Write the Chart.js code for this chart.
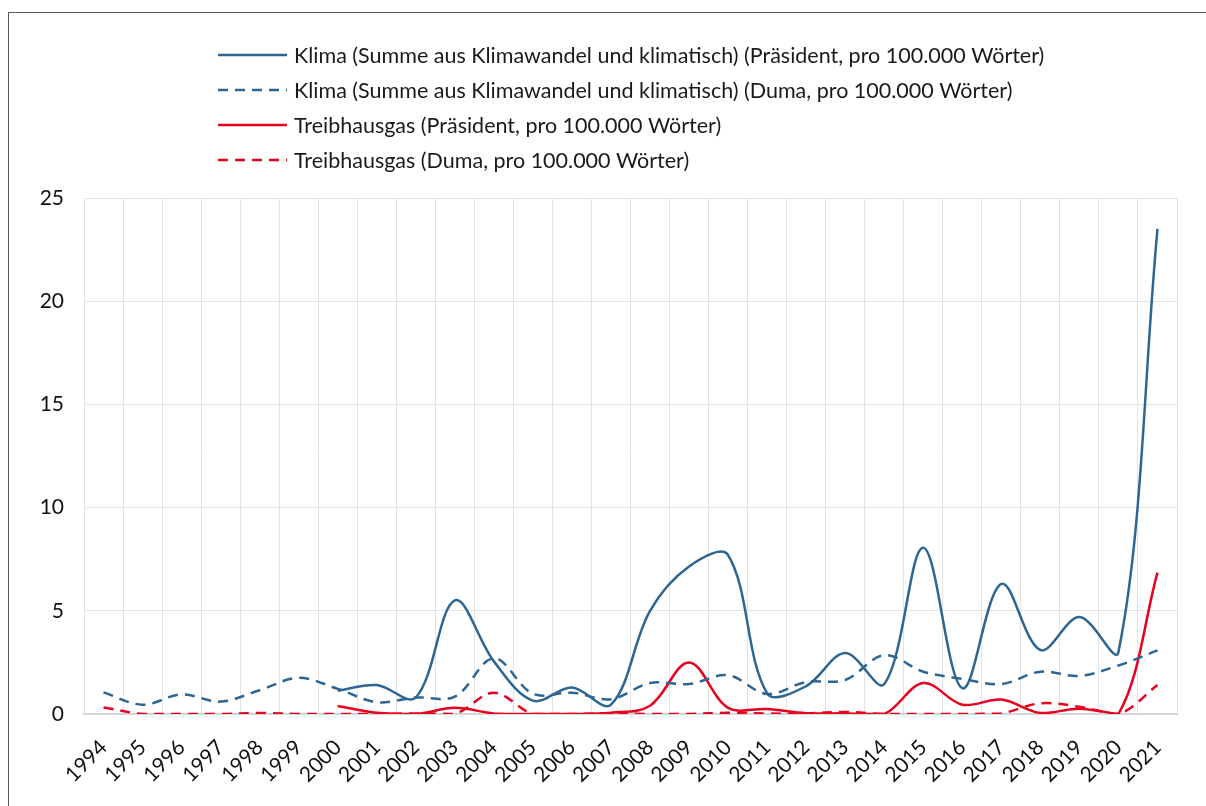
<!DOCTYPE html>
<html>
<head>
<meta charset="utf-8">
<script src="https://cdn.jsdelivr.net/npm/chart.js@4.4.1/dist/chart.umd.min.js"></script>
<style>
  html, body { margin: 0; padding: 0; background: #fff; overflow: hidden; }
  #wrap { position: relative; width: 1206px; height: 806px; overflow: hidden; }
  #frame { position: absolute; left: 8px; top: 12px; width: 1300px; height: 900px; border: 1px solid #5a5a5a; pointer-events: none; }
  canvas { position: absolute; left: 0; top: 0; }
</style>
</head>
<body>
<div id="wrap">
  <canvas id="chart" width="1206" height="806"></canvas>
  <div id="frame"></div>
</div>
<script>
const years = ["1994","1995","1996","1997","1998","1999","2000","2001","2002","2003","2004","2005","2006","2007",
  "2008","2009","2010","2011","2012","2013","2014","2015","2016","2017","2018","2019","2020","2021"];

// Klima (Summe aus Klimawandel und klimatisch), Präsident
const klimaPraesident = [null, null, null, null, null, null, 1.13, 1.4, 0.8, 5.5, 2.55, 0.65, 1.28, 0.45,
  5.0, 7.15, 7.7, 1.0, 1.35, 2.95, 1.45, 8.05, 1.25, 6.3, 3.1, 4.7, 3.0, 23.5];

// Klima, Duma
const klimaDuma = [1.05, 0.45, 0.95, 0.6, 1.15, 1.75, 1.22, 0.57, 0.8, 0.84, 2.7, 0.98, 1.03, 0.72,
  1.5, 1.45, 1.88, 0.97, 1.55, 1.65, 2.85, 2.05, 1.7, 1.45, 2.05, 1.85, 2.35, 3.08];

// Treibhausgas, Präsident
const treibhausPraesident = [null, null, null, null, null, null, 0.39, 0.06, 0.0, 0.3, 0.03, 0.0, 0.0, 0.06,
  0.4, 2.5, 0.3, 0.24, 0.04, 0.03, 0.0, 1.5, 0.45, 0.7, 0.05, 0.26, 0.0, 6.85];

// Treibhausgas, Duma
const treibhausDuma = [0.32, 0.0, 0.0, 0.0, 0.05, 0.0, 0.0, 0.0, 0.03, 0.0, 1.03, 0.0, 0.0, 0.03,
  0.0, 0.0, 0.06, 0.02, 0.03, 0.1, 0.0, 0.0, 0.0, 0.03, 0.52, 0.35, 0.0, 1.4];

const seriesLabels = [
  "Klima (Summe aus Klimawandel und klimatisch) (Präsident, pro 100.000 Wörter)",
  "Klima (Summe aus Klimawandel und klimatisch) (Duma, pro 100.000 Wörter)",
  "Treibhausgas (Präsident, pro 100.000 Wörter)",
  "Treibhausgas (Duma, pro 100.000 Wörter)"
];
const yTicks = [0, 5, 10, 15, 20, 25];

const blue = "#2e6693";
const red = "#e8001f";
const dash = [10, 7];

// legend stacked at the left, drawn by hand because chart.js centers each row
const stackedLegend = {
  id: "stackedLegend",
  afterDraw(chart) {
    const ctx = chart.ctx;
    const rows = [55, 90, 125, 160];
    ctx.save();
    chart.data.datasets.forEach((ds, i) => {
      const y = rows[i];
      ctx.beginPath();
      ctx.strokeStyle = ds.borderColor;
      ctx.lineWidth = ds.borderWidth;
      ctx.setLineDash(ds.borderDash || []);
      ctx.moveTo(218, y);
      ctx.lineTo(287, y);
      ctx.stroke();
      ctx.setLineDash([]);
      ctx.fillStyle = "#1a1a1a";
      ctx.font = "21.5px Lato";
      ctx.textBaseline = "middle";
      ctx.textAlign = "left";
      ctx.fillText(ds.label, 294, y + 1);
    });
    ctx.restore();
  }
};

function lineSet(label, data, color, dashed) {
  return {
    label: label,
    data: data,
    borderColor: color,
    backgroundColor: color,
    borderWidth: 2.5,
    borderDash: dashed ? dash : [],
    pointRadius: 0,
    tension: 0.35,
    fill: false,
    spanGaps: false
  };
}

new Chart(document.getElementById("chart"), {
  type: "line",
  data: {
    labels: years,
    datasets: [
      lineSet(seriesLabels[0], klimaPraesident, blue, false),
      lineSet(seriesLabels[1], klimaDuma, blue, true),
      lineSet(seriesLabels[2], treibhausPraesident, red, false),
      lineSet(seriesLabels[3], treibhausDuma, red, true)
    ]
  },
  options: {
    responsive: false,
    animation: false,
    layout: { padding: { left: 0, top: 198, right: 29, bottom: 0 } },
    plugins: {
      legend: { display: false },
      tooltip: { enabled: false }
    },
    scales: {
      x: {
        offset: true,
        grid: { offset: true, color: "#e3e3e3", lineWidth: 1, drawTicks: false },
        border: { color: "#d6d6d6", width: 2 },
        ticks: {
          autoSkip: false,
          maxRotation: 45,
          minRotation: 45,
          padding: 21,
          color: "#111",
          font: { family: "Lato", size: 21 }
        },
        afterFit(scale) { scale.height = 92; }
      },
      y: {
        min: 0,
        max: 25,
        afterBuildTicks(scale) { scale.ticks = yTicks.map(v => ({ value: v })); },
        grid: { color: "#e3e3e3", lineWidth: 1, drawTicks: false },
        border: { display: false },
        ticks: {
          padding: 20,
          color: "#111",
          font: { family: "Lato", size: 21 }
        },
        afterFit(scale) { scale.width = 84; }
      }
    }
  },
  plugins: [stackedLegend]
});
</script>
</body>
</html>
